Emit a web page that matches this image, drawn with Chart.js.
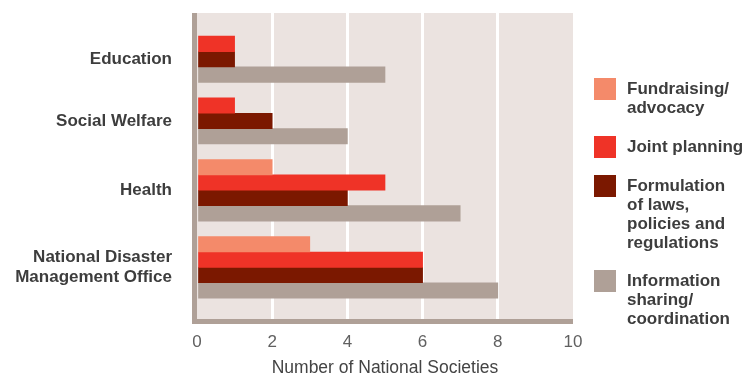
<!DOCTYPE html>
<html>
<head>
<meta charset="utf-8">
<script src="https://cdn.jsdelivr.net/npm/chart.js@4/dist/chart.umd.min.js"></script>
<style>
  html, body { margin: 0; padding: 0; background: #ffffff; }
  #wrap { position: relative; width: 753px; height: 383px; }
  #chart { position: absolute; left: 0; top: 0; }
  #legend {
    position: absolute; left: 594px; top: 79px;
    font-family: 'Liberation Sans', Arial, Helvetica, sans-serif;
    font-weight: bold; font-size: 17px; line-height: 19px; color: #3d3d3d;
  }
  .item { position: relative; padding-left: 33px; margin-bottom: 20px; white-space: nowrap; }
  .item.tight { margin-bottom: 19px; }
  .swatch { position: absolute; left: 0; top: -1.5px; width: 22px; height: 22px; }
</style>
</head>
<body>
<div id="wrap">
  <canvas id="chart" width="753" height="383"></canvas>
  <div id="legend"></div>
</div>
<script>
// Sectors the National Societies work with
const categories = ['Education', 'Social Welfare', 'Health', ['National Disaster', 'Management Office']];

// Type of cooperation (legend lines as printed)
const seriesNames = [
  ['Fundraising/', 'advocacy'],
  ['Joint planning'],
  ['Formulation', 'of laws,', 'policies and', 'regulations'],
  ['Information', 'sharing/', 'coordination']
];
const seriesColors = ['#f48a6a', '#ef3327', '#7b1800', '#afa097'];

// Number of National Societies per sector and type
const fundraising   = [0, 0, 2, 3];
const jointPlanning = [1, 1, 5, 6];
const formulation   = [1, 2, 4, 6];
const infoSharing   = [5, 4, 7, 8];
const seriesValues = [fundraising, jointPlanning, formulation, infoSharing];

// X axis ticks
const xTicks = [0, 2, 4, 6, 8, 10];

const FONT = "'Liberation Sans', Arial, Helvetica, sans-serif";

// Groups are packed: only bars with a value take a slot, with one slot gap between sectors
const TOP_PAD = 1.5, GAP = 1.0, BOTTOM_PAD = 1.35;
const counts = categories.map((_, i) => seriesValues.filter(s => s[i] > 0).length);
const centers = [];
let cursor = TOP_PAD;
counts.forEach(n => { centers.push(cursor + n / 2); cursor += n + GAP; });
const yMax = cursor - GAP + BOTTOM_PAD;

const datasets = seriesValues.map((vals, s) => ({
  label: seriesNames[s].join(' ').replace(/\/ /g, '/'),
  data: vals.map((v, i) => ({ x: v > 0 ? v : null, y: centers[i] })),
  backgroundColor: seriesColors[s],
  borderWidth: 0
}));

// Plot background and the thick axis lines on the left and bottom
const frame = {
  id: 'frame',
  beforeDraw(chart) {
    const { ctx, chartArea: a } = chart;
    ctx.save();
    ctx.fillStyle = '#ebe3e0';
    ctx.fillRect(a.left, a.top, a.right - a.left, a.bottom - a.top);
    ctx.restore();
  },
  afterDatasetsDraw(chart) {
    const { ctx, chartArea: a } = chart;
    ctx.save();
    ctx.fillStyle = '#afa097';
    ctx.fillRect(a.left - 5, a.top, 5, a.bottom - a.top + 5);
    ctx.fillRect(a.left - 5, a.bottom, a.right - a.left + 5, 5);
    ctx.restore();
  }
};

const chart = new Chart(document.getElementById('chart'), {
  type: 'bar',
  data: { datasets },
  options: {
    indexAxis: 'y',
    responsive: false,
    animation: false,
    layout: { padding: { left: 0, right: 180, top: 13, bottom: 0 } },
    datasets: { bar: { skipNull: true, barThickness: 15.4, grouped: true } },
    plugins: { legend: { display: false }, tooltip: { enabled: false } },
    scales: {
      x: {
        type: 'linear', min: 0, max: 10,
        afterBuildTicks(scale) { scale.ticks = xTicks.map(v => ({ value: v })); },
        afterFit(scale) { scale.height = 64; },
        grid: {
          color: ctx => (ctx.tick && (ctx.tick.value === 0 || ctx.tick.value === 10)) ? 'rgba(0,0,0,0)' : '#ffffff',
          lineWidth: 3, drawTicks: false
        },
        border: { display: false },
        ticks: { padding: 13, color: '#606060', font: { family: FONT, size: 17 } },
        title: {
          display: true, text: 'Number of National Societies', color: '#444444',
          font: { family: FONT, size: 17.5 }, padding: { top: 0, bottom: 4 }
        }
      },
      y: {
        type: 'linear', reverse: true, min: 0, max: yMax, offset: false,
        afterBuildTicks(scale) { scale.ticks = centers.map(v => ({ value: v })); },
        afterFit(scale) {
          scale.width = 197;
          scale.paddingTop = 0;
          scale.paddingBottom = 0;
        },
        grid: { display: false, drawTicks: false },
        border: { display: false },
        ticks: {
          padding: 25, color: '#3d3d3d', autoSkip: false,
          font: { family: FONT, size: 17, weight: 'bold' },
          callback(value) {
            const i = centers.findIndex(c => Math.abs(c - value) < 1e-6);
            return i >= 0 ? categories[i] : '';
          }
        }
      }
    }
  },
  plugins: [frame]
});

// Legend built from the datasets
const legend = document.getElementById('legend');
chart.data.datasets.forEach((ds, s) => {
  const item = document.createElement('div');
  item.className = 'item' + (s === 2 ? ' tight' : '');
  const sw = document.createElement('span');
  sw.className = 'swatch';
  sw.style.background = ds.backgroundColor;
  item.appendChild(sw);
  seriesNames[s].forEach((line, k) => {
    if (k > 0) item.appendChild(document.createElement('br'));
    item.appendChild(document.createTextNode(line));
  });
  legend.appendChild(item);
});
</script>
</body>
</html>
